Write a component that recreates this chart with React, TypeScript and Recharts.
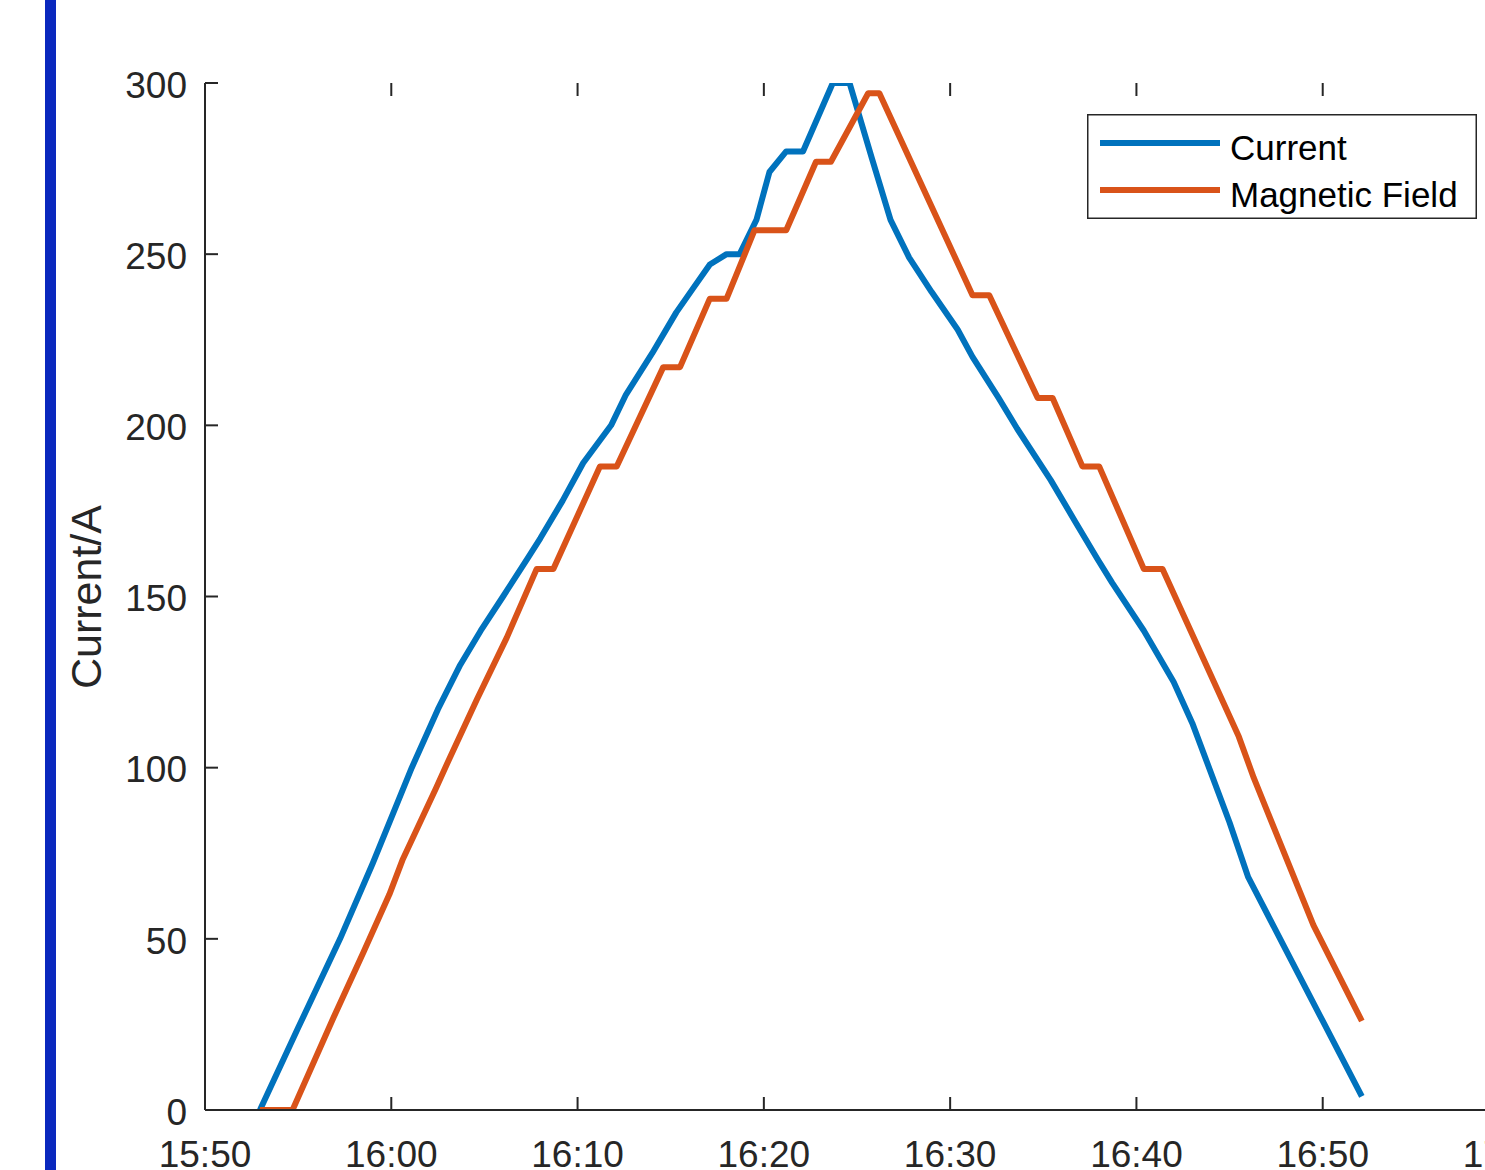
import { LineChart, Line, XAxis, YAxis, Legend } from 'recharts';

// minutes after 15:50
const timeTicks = [0, 10, 20, 30, 40, 50, 60, 70];
const timeLabels = ['15:50', '16:00', '16:10', '16:20', '16:30', '16:40', '16:50', '17:00'];
const currentTicks = [0, 50, 100, 150, 200, 250, 300];

const currentTimes = [
  2.95, 5, 7.25, 9, 11.1, 12.5, 13.7, 14.8, 16, 17.3, 18, 19.2, 20.3, 21.8, 22.6, 24, 25.3, 26.2,
  27.1, 28, 28.7, 29.6, 30.3, 31.2, 32.1, 33.7, 34.6, 35.8, 36.8, 37.8, 39, 40.4, 41.2, 42.6, 43.6,
  45.4, 46.7, 47.9, 48.7, 50.4, 52, 53, 55, 56, 58, 60, 62.1,
];
const currentValues = [
  0, 24, 50, 72, 100, 117, 130, 140, 150, 161, 167, 178, 189, 200, 209, 221, 233, 240,
  247, 250, 250, 260, 274, 280, 280, 300, 300, 278, 260, 249, 239, 228, 220, 208, 199,
  184, 172, 161, 154, 140, 125, 113, 84, 68, 47, 26, 4,
];

const fieldTimes = [
  2.95, 4.7, 6.9, 8.5, 9.9, 10.6, 12.4, 13.15, 14.6, 16.2, 17.8, 18.7, 21.2, 22.1, 24.6, 25.5,
  27.1, 28, 29.5, 31.2, 32.8, 33.6, 35.6, 36.2, 41.2, 42.1, 44.7, 45.5, 47.1, 48, 50.4, 51.4,
  55.5, 56.3, 59.5, 62.1,
];
const fieldValues = [
  0, 0, 27, 46, 63, 73, 94, 103, 120, 138, 158, 158, 188, 188, 217, 217,
  237, 237, 257, 257, 277, 277, 297, 297, 238, 238, 208, 208, 188, 188, 158, 158,
  109, 97, 54, 26,
];

const currentData = currentTimes.map((t, i) => ({ t, v: currentValues[i] }));
const fieldData = fieldTimes.map((t, i) => ({ t, v: fieldValues[i] }));

const AXIS = '#262626';
const FONT = "'Liberation Sans', Arial, Helvetica, sans-serif";
const PLOT_LEFT = 205;
const PLOT_TOP = 83;
const PLOT_BOTTOM = 1110;
const TICK_LEN = 13;

function LeftTick({ y, payload }: any) {
  return (
    <g>
      <path d={`M${PLOT_LEFT},${y}H${PLOT_LEFT + TICK_LEN}`} stroke={AXIS} strokeWidth={2} fill="none" />
      <text x={PLOT_LEFT - 18} y={y} dy="0.4em" textAnchor="end" fontSize={37} fill={AXIS} fontFamily={FONT}>
        {payload.value}
      </text>
    </g>
  );
}

// bottom labels plus the inward marks on both the bottom and the top edge of the box
function BottomTick({ x, payload }: any) {
  return (
    <g>
      <path d={`M${x},${PLOT_BOTTOM}V${PLOT_BOTTOM - TICK_LEN}`} stroke={AXIS} strokeWidth={2} fill="none" />
      <path d={`M${x},${PLOT_TOP}V${PLOT_TOP + TICK_LEN}`} stroke={AXIS} strokeWidth={2} fill="none" />
      <text x={x} y={PLOT_BOTTOM + 57} textAnchor="middle" fontSize={37} fill={AXIS} fontFamily={FONT}>
        {timeLabels[timeTicks.indexOf(payload.value)]}
      </text>
    </g>
  );
}

function YLabel() {
  return (
    <text
      x={101}
      y={597}
      transform="rotate(-90, 101, 597)"
      textAnchor="middle"
      fontSize={43}
      fill={AXIS}
      fontFamily={FONT}
    >
      Current/A
    </text>
  );
}

function LegendBox({ payload }: any) {
  return (
    <svg width={390} height={105} style={{ display: 'block' }}>
      <rect x={0.75} y={0.75} width={388.5} height={103.5} fill="#fff" stroke={AXIS} strokeWidth={1.5} />
      {(payload || []).map((p: any, i: number) => (
        <g key={p.value}>
          <line x1={13} x2={133} y1={29 + i * 47} y2={29 + i * 47} stroke={p.color} strokeWidth={6} />
          <text x={143} y={29 + i * 47} dy="0.48em" fontSize={35} fill="#000" fontFamily={FONT}>
            {p.value}
          </text>
        </g>
      ))}
    </svg>
  );
}

export default function App() {
  return (
    <div
      style={{
        position: 'absolute',
        left: 0,
        top: 0,
        width: 1485,
        height: 1170,
        overflow: 'hidden',
        background: '#fff',
      }}
    >
      <div style={{ position: 'absolute', left: 45, top: 0, width: 11, height: 1170, background: '#0a28be' }} />
      <LineChart width={1560} height={1170} margin={{ top: PLOT_TOP, right: 51, left: 0, bottom: 10 }}>
        <XAxis
          dataKey="t"
          type="number"
          domain={[0, 70]}
          ticks={timeTicks}
          interval={0}
          allowDataOverflow
          height={50}
          tickSize={0}
          tickMargin={0}
          tickLine={false}
          axisLine={{ stroke: AXIS, strokeWidth: 2 }}
          tick={<BottomTick />}
        />
        <XAxis
          xAxisId="top"
          orientation="top"
          dataKey="t"
          type="number"
          domain={[0, 70]}
          ticks={timeTicks}
          height={0}
          tickLine={false}
          tick={false}
          axisLine={{ stroke: AXIS, strokeWidth: 2 }}
        />
        <YAxis
          type="number"
          domain={[0, 300]}
          ticks={currentTicks}
          interval={0}
          allowDataOverflow
          width={PLOT_LEFT}
          tickSize={0}
          tickMargin={18}
          tickLine={false}
          axisLine={{ stroke: AXIS, strokeWidth: 2 }}
          tick={<LeftTick />}
          label={{ content: () => <YLabel /> }}
        />
        <Legend
          layout="vertical"
          align="center"
          verticalAlign="middle"
          wrapperStyle={{ left: 1087, top: 114, width: 390, height: 105 }}
          content={<LegendBox />}
        />
        <Line
          data={currentData}
          dataKey="v"
          name="Current"
          type="linear"
          stroke="#0072BD"
          strokeWidth={6}
          strokeLinejoin="round"
          dot={false}
          activeDot={false}
          isAnimationActive={false}
        />
        <Line
          data={fieldData}
          dataKey="v"
          name="Magnetic Field"
          type="linear"
          stroke="#D95319"
          strokeWidth={6}
          strokeLinejoin="round"
          dot={false}
          activeDot={false}
          isAnimationActive={false}
        />
      </LineChart>
    </div>
  );
}
